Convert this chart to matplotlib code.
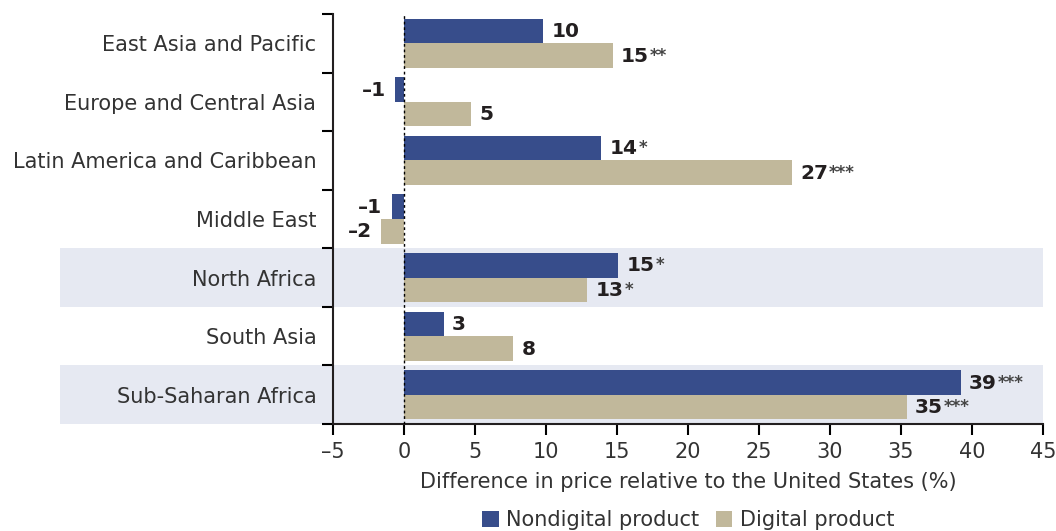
import matplotlib.pyplot as plt
import matplotlib.transforms as mtransforms
from matplotlib.patches import Rectangle
import numpy as np

plt.rcParams['font.family'] = ['DejaVu Sans']

regions = ['East Asia and Pacific', 'Europe and Central Asia', 'Latin America and Caribbean',
           'Middle East', 'North Africa', 'South Asia', 'Sub-Saharan Africa']
nondigital = [9.8, -0.6, 13.9, -0.85, 15.1, 2.8, 39.2]
digital = [14.7, 4.7, 27.3, -1.6, 12.9, 7.7, 35.4]
nondigital_lbl = ['10', '–1', '14', '–1', '15', '3', '39']
nondigital_star = ['', '', '*', '', '*', '', '***']
digital_lbl = ['15', '5', '27', '–2', '13', '8', '35']
digital_star = ['**', '', '***', '', '*', '', '***']
shaded = ['North Africa', 'Sub-Saharan Africa']
xticks = [-5, 0, 5, 10, 15, 20, 25, 30, 35, 40, 45]

c_nd = '#374D8B'
c_d = '#C1B89B'
c_band = '#E6E9F2'
c_txt = '#231F20'
fs = 15

fig = plt.figure(figsize=(10.56, 5.31), dpi=100)
ax = fig.add_axes([333/1056, 1-424/531, 710/1056, 410/531])

y = np.arange(len(regions))
h = 0.42
ax.barh(y - h/2, nondigital, height=h, color=c_nd, zorder=3, label='Nondigital product')
ax.barh(y + h/2, digital, height=h, color=c_d, zorder=3, label='Digital product')

# shaded bands (extend into label area)
trans = mtransforms.blended_transform_factory(ax.transAxes, ax.transData)
for r in shaded:
    i = regions.index(r)
    ax.add_patch(Rectangle((-0.3845, i - 0.5), 1.3845, 1.0, transform=trans,
                           color=c_band, zorder=0, clip_on=False, lw=0))

ax.axvline(0, color='black', lw=1, ls=(0, (2, 2)), zorder=4)

ax.set_xlim(-5, 45)
ax.set_ylim(len(regions) - 0.5, -0.5)
ax.set_xticks(xticks)
ax.set_xticklabels([str(t).replace('-', '–') for t in xticks], fontsize=fs, color='#333333')
ax.set_yticks(y)
ax.set_yticklabels(regions, fontsize=fs, color='#333333')
ax.tick_params(axis='y', which='major', length=0, pad=12)
ax.set_yticks(np.arange(-0.5, len(regions)), minor=True)
ax.tick_params(axis='y', which='minor', length=8, width=1.5, direction='out')
ax.tick_params(axis='x', length=8, width=1.5, direction='out', pad=5)
for s in ['top', 'right']:
    ax.spines[s].set_visible(False)
for s in ['left', 'bottom']:
    ax.spines[s].set_linewidth(1.5)
    ax.spines[s].set_color('#231F20')
ax.set_xlabel('Difference in price relative to the United States (%)', fontsize=fs,
              color='#333333', labelpad=7.5)

# value labels with smaller stars
fig.canvas.draw()
renderer = fig.canvas.get_renderer()

def put_label(xv, yv, num, star):
    off = 6 if xv >= 0 else -7
    ha = 'left' if xv >= 0 else 'right'
    t = ax.annotate(num, (xv, yv), xytext=(off, -0.5), textcoords='offset points',
                    ha=ha, va='center', fontsize=14.5, fontweight='bold', color=c_txt, zorder=5)
    if star:
        bb = t.get_window_extent(renderer)
        ax.annotate(star, xy=(bb.x1, bb.y1), xycoords='figure pixels', xytext=(0.5, 0),
                    textcoords='offset points', ha='left', va='top', fontsize=12,
                    fontweight='bold', color='#444444', zorder=5)

for i in range(len(regions)):
    put_label(nondigital[i], i - h/2, nondigital_lbl[i], nondigital_star[i])
    put_label(digital[i], i + h/2, digital_lbl[i], digital_star[i])

handles, labels = ax.get_legend_handles_labels()
fig.legend(handles, labels, loc='lower center', bbox_to_anchor=(688/1056, -0.034), ncol=2,
           frameon=False, fontsize=fs, handlelength=0.8, handleheight=0.8,
           handletextpad=0.35, columnspacing=0.8, labelcolor='#333333')

fig.savefig('out.png', dpi=100)
